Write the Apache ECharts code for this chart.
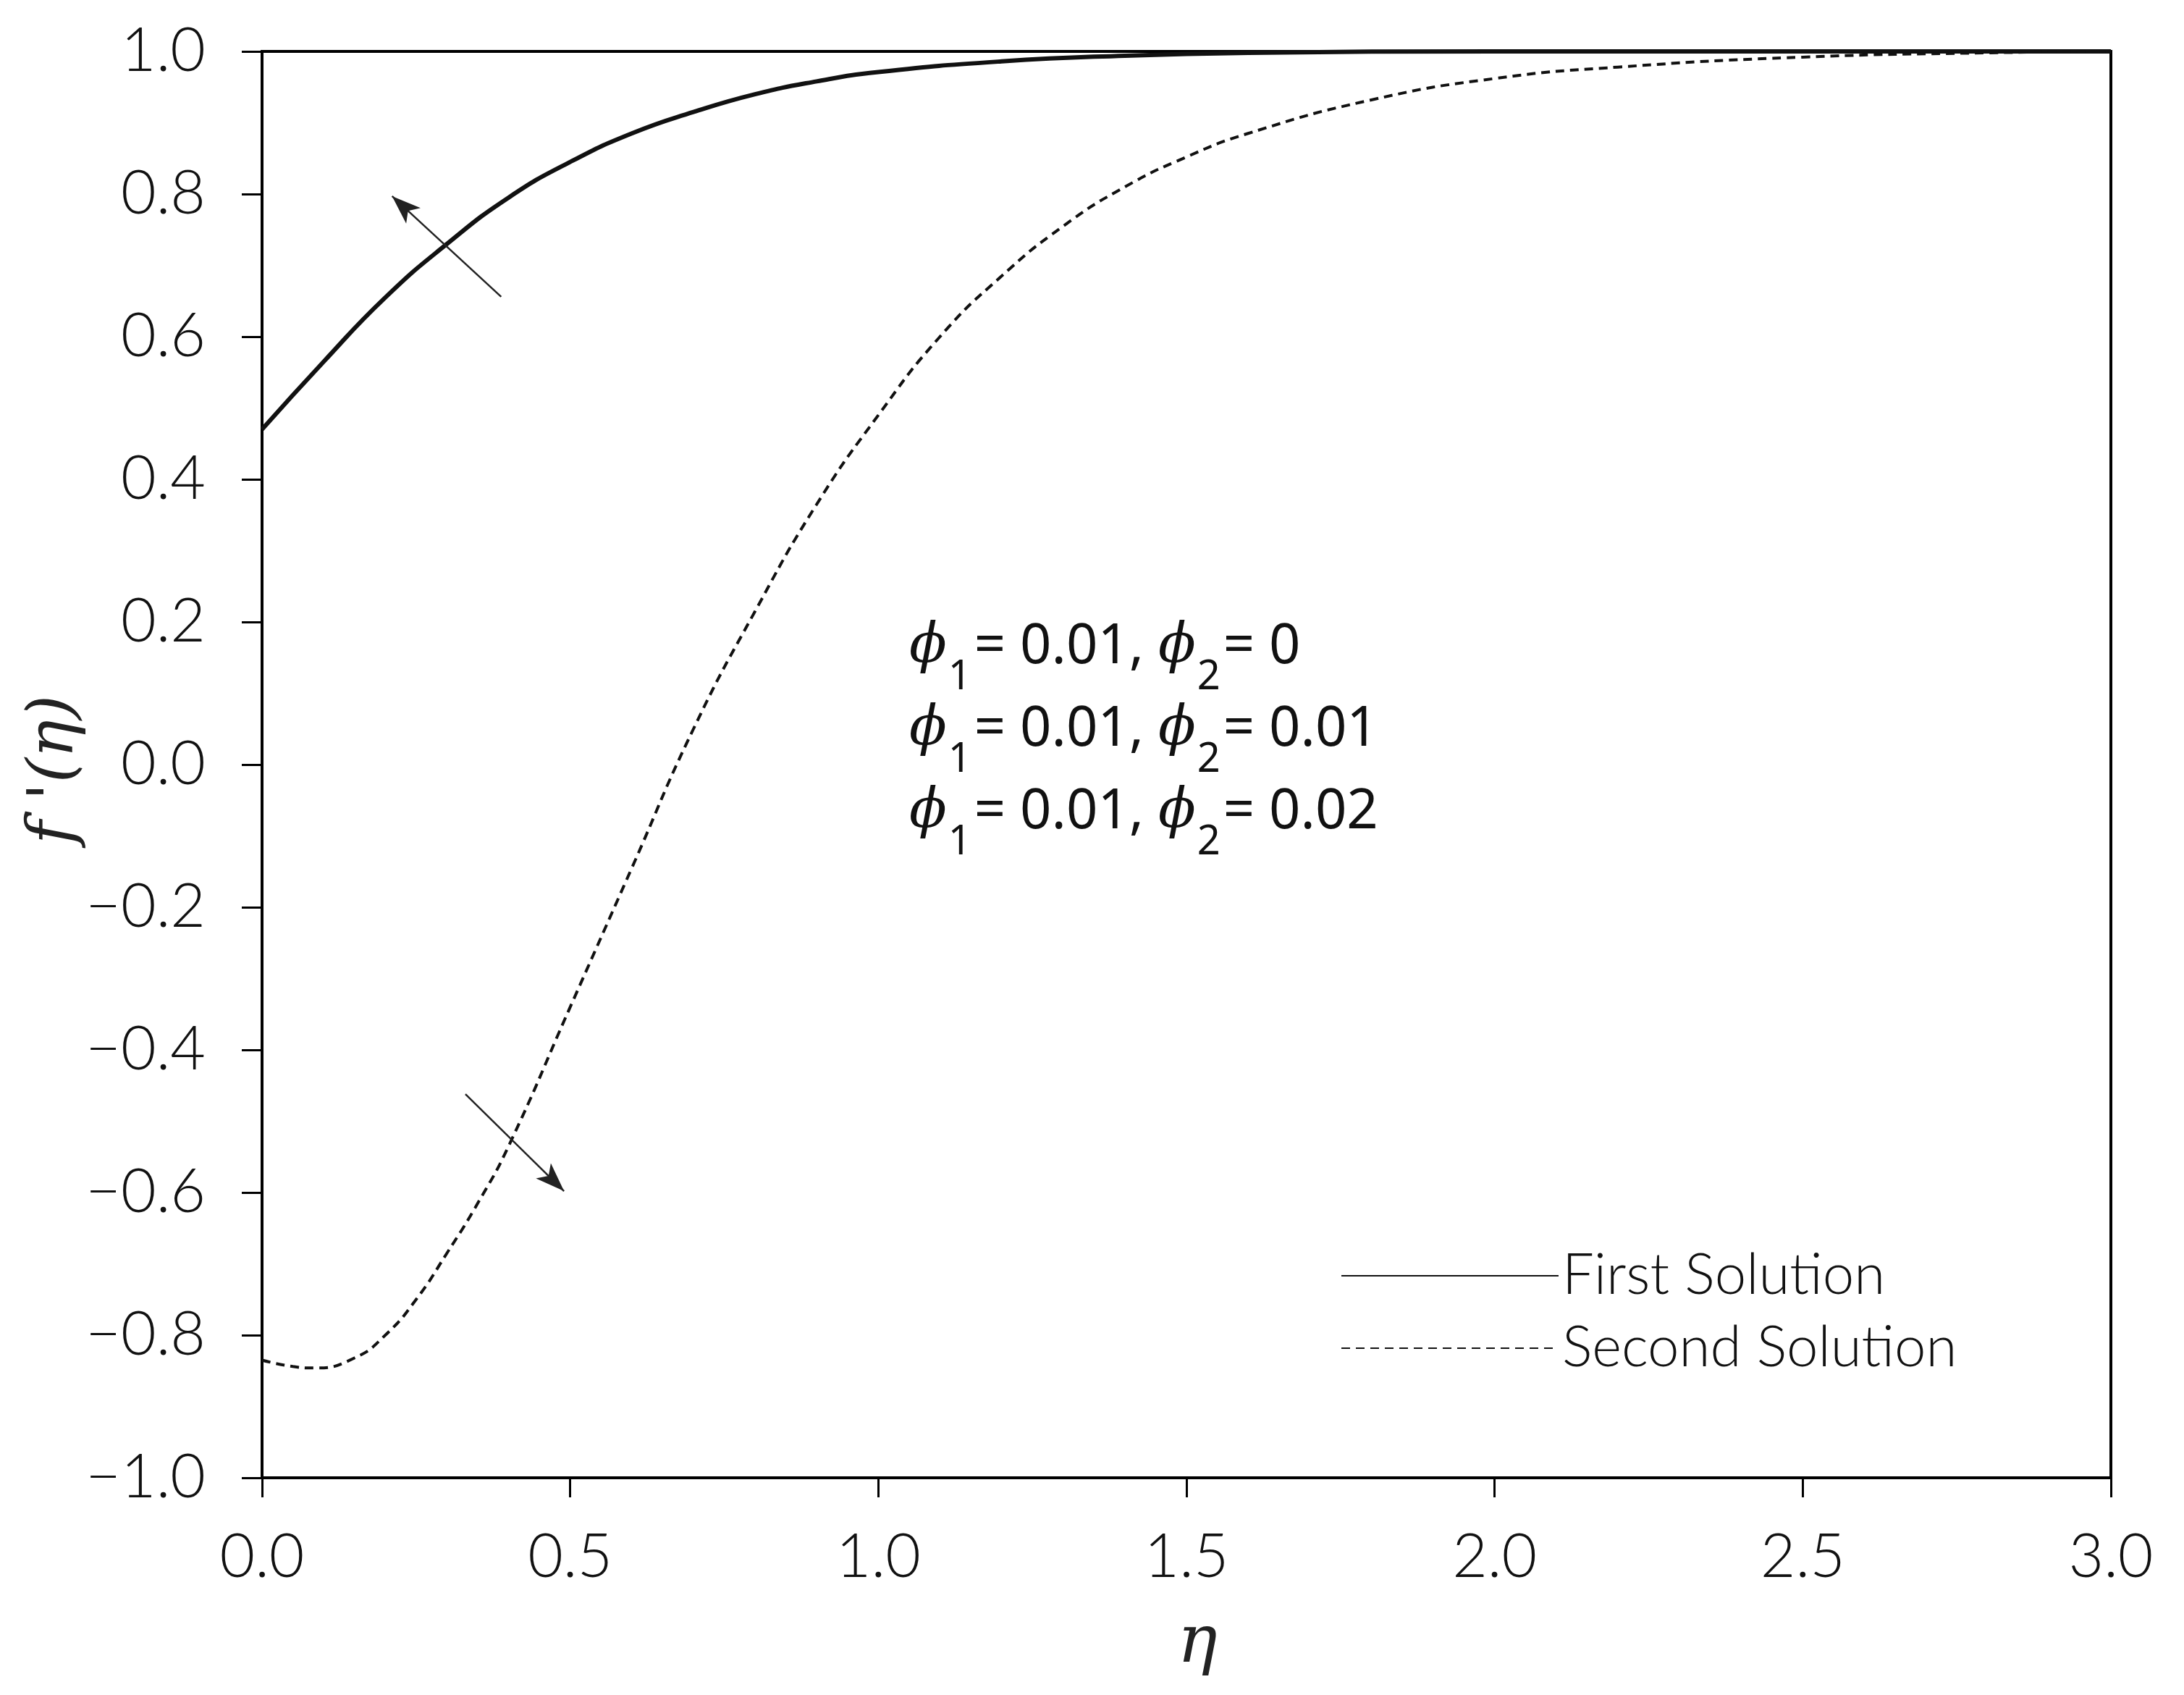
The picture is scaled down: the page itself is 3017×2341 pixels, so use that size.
<!DOCTYPE html>
<html><head><meta charset="utf-8">
<script src="https://cdn.jsdelivr.net/npm/echarts@6/dist/echarts.min.js"></script>
<style>html,body{margin:0;padding:0;background:#fff}#c{width:3017px;height:2341px}</style>
</head><body><div id="c"></div>
<script>
const etaFirst = [0,0.1,0.2,0.3,0.4,0.5,0.6,0.7,0.8,0.9,1.0,1.2,1.4,1.6,2.0,2.5,3.0];
const fFirst   = [0.47,0.565,0.655,0.73,0.795,0.845,0.885,0.915,0.94,0.958,0.971,0.986,0.994,0.998,1.0,1.0,1.0];
const etaSecond = [0,0.05,0.085,0.15,0.2,0.25,0.3,0.35,0.4,0.5,0.6,0.7,0.8,0.9,1.0,1.1,1.2,1.3,1.4,1.5,1.6,1.8,2.0,2.2,2.5,2.8,3.0];
const fSecond   = [-0.835,-0.844,-0.846,-0.832,-0.80,-0.75,-0.685,-0.615,-0.535,-0.34,-0.145,0.05,0.215,0.365,0.49,0.6,0.685,0.755,0.81,0.852,0.885,0.932,0.962,0.978,0.992,0.998,1.0];
const xTicks = [0,0.5,1,1.5,2,2.5,3];
const yTicks = [-1,-0.8,-0.6,-0.4,-0.2,0,0.2,0.4,0.6,0.8,1];
const seriesNames = ['First Solution','Second Solution'];
const annotations = [['0.01','0'],['0.01','0.01'],['0.01','0.02']];
const arrowUp = [[0.388,0.656],[0.211,0.797]];
const arrowDown = [[0.330,-0.462],[0.490,-0.598]];

const tickFont = {fontFamily:'Lato', fontWeight:300, fontSize:84, color:'#111'};
function fmt(v){ return (v<0?'\u2212':'') + Math.abs(v).toFixed(1); }
const chart = echarts.init(document.getElementById('c'));
chart.setOption({
  backgroundColor:'#fff',
  animation:false,
  grid:{left:362, top:71, width:2554, height:1970, show:true, borderColor:'#000', borderWidth:4},
  xAxis:{type:'value', min:0, max:3, interval:0.5,
    axisLine:{onZero:false, lineStyle:{color:'#000',width:4}},
    axisTick:{inside:false,length:27,lineStyle:{color:'#000',width:3}},
    axisLabel:Object.assign({margin:68, formatter:v=>fmt(v)}, tickFont),
    splitLine:{show:false}},
  yAxis:{type:'value', min:-1, max:1, interval:0.2,
    axisLine:{onZero:false, lineStyle:{color:'#000',width:4}},
    axisTick:{inside:false,length:28,lineStyle:{color:'#000',width:3}},
    axisLabel:Object.assign({margin:78, formatter:v=>fmt(v)}, tickFont),
    splitLine:{show:false}},
  legend:{orient:'vertical', left:1847, top:1718, itemWidth:300, itemHeight:10, itemGap:22, itemTextGap:4,
    data:seriesNames, itemStyle:{opacity:0},
    textStyle:{fontFamily:'Lato', fontWeight:300, fontSize:78, color:'#111'}},
  series:[
    {name:seriesNames[0], type:'line', smooth:true, symbol:'none',
     data:etaFirst.map((x,i)=>[x,fFirst[i]]),
     itemStyle:{color:'#111'},
     lineStyle:{color:'#111', width:6},
     markLine:{silent:true, symbol:['none','arrow'], symbolSize:[22,40],
       lineStyle:{color:'#222', width:2.5, type:'solid'}, label:{show:false},
       data:[[{coord:arrowUp[0]},{coord:arrowUp[1]}],[{coord:arrowDown[0]},{coord:arrowDown[1]}]]}},
    {name:seriesNames[1], type:'line', smooth:true, symbol:'none',
     data:etaSecond.map((x,i)=>[x,fSecond[i]]),
     itemStyle:{color:'#111'},
     lineStyle:{color:'#111', width:4, type:[12,8]}}
  ],
  graphic:[
    {type:'text', x:1654, y:2271, style:{text:'η', fontFamily:'DejaVu Serif', fontStyle:'italic', fontSize:92, fill:'#222', align:'center', verticalAlign:'middle'}},
    {type:'text', x:77, y:1063, rotation:Math.PI/2, style:{text:"f '(η)", fontFamily:'DejaVu Serif', fontStyle:'italic', fontSize:88, fill:'#222', align:'center', verticalAlign:'middle'}},
  ].concat(annotations.map((a,i)=>({type:'text', x:1256, y:934 - 78 + i*114,
    style:{text:'{p|ϕ}{s|1}{n|= '+a[0]+', }{p|ϕ}{s|2}{n|= '+a[1]+'}',
      rich:{p:{fontFamily:'DejaVu Serif', fontStyle:'italic', fontSize:76, fill:'#111', lineHeight:100, verticalAlign:'top'},
            s:{fontFamily:'Noto Sans', fontSize:56, fill:'#111', lineHeight:60, verticalAlign:'top', padding:[52,4,0,2]},
            n:{fontFamily:'Noto Sans', fontSize:76, fill:'#111', lineHeight:100, verticalAlign:'top'}}}})))
});
</script></body></html>
